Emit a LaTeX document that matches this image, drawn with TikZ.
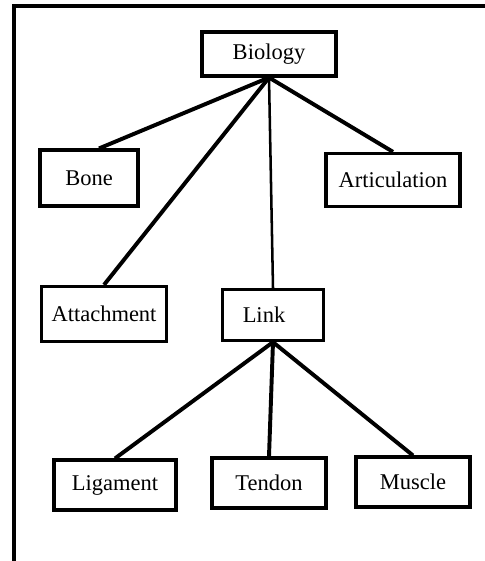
\documentclass[tikz,border=0pt]{standalone}
\usepackage{fontspec}
\setmainfont{Liberation Serif}
\usetikzlibrary{positioning}

\tikzset{
  topic/.style={draw, line width=2.2pt, fill=white, inner sep=0pt, font=\fontsize{16}{19}\selectfont},
  branch/.style={line width=2.8pt},
}

\begin{document}
\begin{tikzpicture}[x=0.025cm, y=-0.025cm]
				\useasboundingbox (0,0) rectangle (485,561);
				% frame
				\draw[line width=2.2pt] (14,561) -- (14,6) -- (485,6);
				% nodes
				\node[topic, minimum width=3.35cm, minimum height=1.1cm] (biology) at (269,54) {Biology};
				\node[topic, minimum width=2.45cm, minimum height=1.4cm] (bone) at (89,178) {Bone};
				\node[topic, minimum width=3.35cm, minimum height=1.33cm] (articulation) at (393,180) {Articulation};
				\node[topic, minimum width=3.13cm, minimum height=1.38cm] (attachment) at (104,314) {Attachment};
				\node[topic, minimum width=2.53cm, minimum height=1.28cm] (link) at (273,315) {Link\kern0.45cm};
				\node[topic, minimum width=3.05cm, minimum height=1.25cm] (ligament) at (115,485) {Ligament};
				\node[topic, minimum width=2.85cm, minimum height=1.25cm] (tendon) at (269,483) {Tendon};
				\node[topic, minimum width=2.85cm, minimum height=1.25cm] (muscle) at (413,482) {Muscle};
				% connectors
				\draw[branch] (biology.south) -- ([xshift=0.25cm]bone.north);
				\draw[branch] (biology.south) -- (attachment.north);
				\draw[line width=1.8pt] (biology.south) -- (link.north);
				\draw[branch] (biology.south) -- (articulation.north);
				\draw[branch] (link.south) -- (ligament.north);
				\draw[branch] (link.south) -- (tendon.north);
				\draw[branch] (link.south) -- (muscle.north);
			\end{tikzpicture}
\end{document}
